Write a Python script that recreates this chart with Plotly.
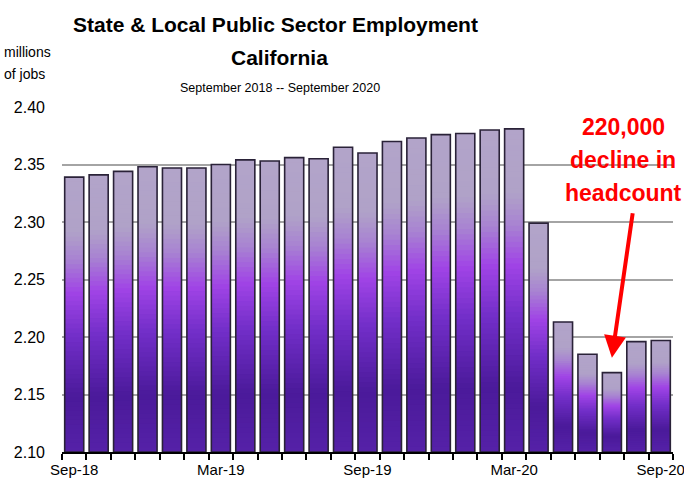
import plotly.graph_objects as go

months = ["Sep-18", "Oct-18", "Nov-18", "Dec-18", "Jan-19", "Feb-19", "Mar-19",
          "Apr-19", "May-19", "Jun-19", "Jul-19", "Aug-19", "Sep-19", "Oct-19",
          "Nov-19", "Dec-19", "Jan-20", "Feb-20", "Mar-20", "Apr-20", "May-20",
          "Jun-20", "Jul-20", "Aug-20", "Sep-20"]
jobs = [2.339, 2.341, 2.344, 2.348, 2.347, 2.347, 2.350,
        2.354, 2.353, 2.356, 2.355, 2.365, 2.360, 2.370,
        2.373, 2.376, 2.377, 2.380, 2.381, 2.299, 2.213,
        2.185, 2.169, 2.196, 2.197]
labelled = ["Sep-18", "Mar-19", "Sep-19", "Mar-20", "Sep-20"]
y_ticks = [2.10, 2.15, 2.20, 2.25, 2.30, 2.35, 2.40]

BASE = 2.10
FONT = "Liberation Sans, Arial, sans-serif"

# gradient stops: fraction from bar bottom -> colour
stops = [(0.0, (0x55, 0x21, 0xA8)), (0.2, (0x4B, 0x1A, 0x9A)),
         (0.42, (0x72, 0x2E, 0xC8)), (0.58, (0xA0, 0x44, 0xE6)),
         (0.70, (0xA8, 0x82, 0xD2)), (0.80, (0xB0, 0xA2, 0xC8)),
         (1.0, (0xB2, 0xA4, 0xC9))]


def colour_at(f):
    for (f0, c0), (f1, c1) in zip(stops[:-1], stops[1:]):
        if f0 <= f <= f1:
            t = (f - f0) / (f1 - f0) if f1 > f0 else 0
            c = [round(a + (b - a) * t) for a, b in zip(c0, c1)]
            return "rgb(%d,%d,%d)" % tuple(c)
    return "rgb(%d,%d,%d)" % stops[-1][1]


fig = go.Figure()
N = 60
for k in range(N):
    bases, heights = [], []
    for v in jobs:
        step = (v - BASE) / N
        b = BASE + k * step
        bases.append(b)
        heights.append(min(step * 1.8, v - b))
    fig.add_trace(go.Bar(x=months, y=heights, base=bases,
                         marker=dict(color=colour_at((k + 0.5) / N), line=dict(width=0)),
                         hoverinfo="skip", showlegend=False))

# outline
fig.add_trace(go.Bar(x=months, y=[v - BASE for v in jobs], base=[BASE] * len(jobs),
                     marker=dict(color="rgba(0,0,0,0)", line=dict(color="#2a2238", width=1.6)),
                     showlegend=False))

fig.update_layout(
    width=684, height=481,
    margin=dict(l=62, r=11, t=107, b=29),
    paper_bgcolor="white", plot_bgcolor="white",
    barmode="overlay", bargap=0.22,
    showlegend=False,
    font=dict(family=FONT, color="black"),
)
fig.update_xaxes(
    type="category", tickmode="array", tickvals=months,
    ticktext=[m if m in labelled else "" for m in months],
    tickson="boundaries", ticks="outside", ticklen=6, tickcolor="black", tickwidth=1.5,
    showline=True, linecolor="black", linewidth=1.5, tickangle=0, automargin=False,
    ticklabelstandoff=3,
    tickfont=dict(family=FONT, size=15, color="black"),
    showgrid=False,
)
fig.update_yaxes(
    range=[2.10, 2.40], tickvals=y_ticks, ticktext=["%.2f" % t for t in y_ticks],
    showgrid=True, gridcolor="#a4a4a4", gridwidth=1.5,
    zeroline=False, showline=False, ticks="", automargin=False,
    ticklabelstandoff=16,
    tickfont=dict(family=FONT, size=16, color="black"),
)


def px_x(px):
    return (px - 62) / 611.0


def px_y(py):
    return (452 - py) / 345.0


anns = [
    dict(text="<b>State & Local Public Sector Employment</b>", x=px_x(275), y=px_y(25),
         font=dict(family=FONT, size=21)),
    dict(text="<b>California</b>", x=px_x(279), y=px_y(57), font=dict(family=FONT, size=21)),
    dict(text="September 2018 -- September 2020", x=px_x(280), y=px_y(88),
         font=dict(family=FONT, size=12.5)),
    dict(text="millions", x=px_x(2), y=px_y(52), xanchor="left", font=dict(family=FONT, size=14)),
    dict(text="of jobs", x=px_x(2), y=px_y(74), xanchor="left", font=dict(family=FONT, size=14)),
    dict(text="<b>220,000</b>", x=px_x(623), y=px_y(127), font=dict(family=FONT, size=23, color="#ff0000")),
    dict(text="<b>decline in</b>", x=px_x(623), y=px_y(160), font=dict(family=FONT, size=23, color="#ff0000")),
    dict(text="<b>headcount</b>", x=px_x(623), y=px_y(193), font=dict(family=FONT, size=23, color="#ff0000")),
]
for a in anns:
    a.setdefault("xanchor", "center")
    fig.add_annotation(xref="paper", yref="paper", showarrow=False, yanchor="middle", **a)

fig.add_annotation(x="Jul-20", y=2.40 - (358 - 107.3) / 1150.0, xref="x", yref="y",
                   ax=21, ay=-146, text="", showarrow=True, arrowhead=2,
                   arrowsize=1.1, arrowwidth=4, arrowcolor="#ff0000")

fig.write_html("out.html")
